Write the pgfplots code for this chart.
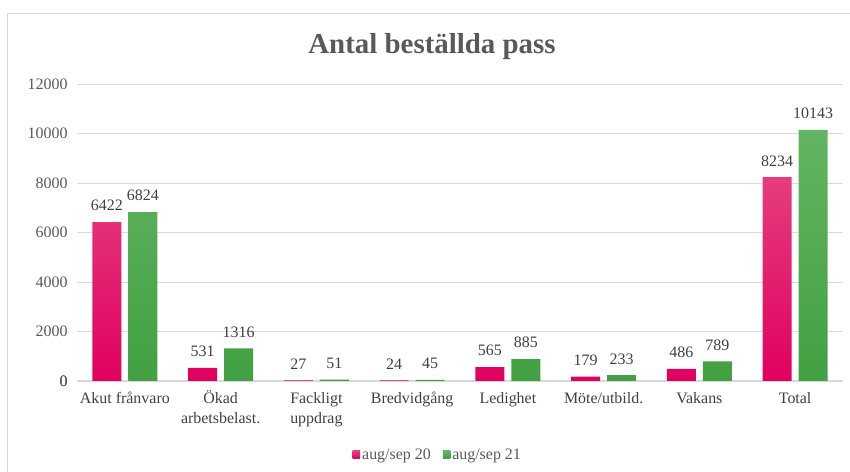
\documentclass[border=0pt]{standalone}
\usepackage{fontspec}
\setmainfont{Liberation Serif}
\usepackage{pgfplots}
\pgfplotsset{compat=1.18}
\definecolor{pinkT}{HTML}{E63C7E}
\definecolor{pinkB}{HTML}{E0005F}
\definecolor{pinkL}{HTML}{E5086A}
\definecolor{greenT}{HTML}{62B562}
\definecolor{greenB}{HTML}{42A042}
\definecolor{greenL}{HTML}{4CAA4C}
\definecolor{gridc}{HTML}{D9D9D9}
\definecolor{txt}{HTML}{404040}
\definecolor{ttl}{HTML}{595959}
\newcommand{\ph}{\vphantom{Ö}}
\begin{document}
\begin{tikzpicture}[x=1bp,y=1bp]
\useasboundingbox (0,0) rectangle (850,472);
\draw[gridc, line width=1.2bp] (7.5,-5) -- (7.5,458.5) -- (860,458.5);
\begin{axis}[
  at={(77bp,91bp)}, anchor=south west,
  scale only axis, width=766bp, height=297bp,
  ymin=0, ymax=12000, xmin=-0.5, xmax=7.5,
  ybar=7bp, bar width=29bp,
  axis line style={draw=none},
  ymajorgrids, grid style={gridc, line width=0.8bp},
  major tick length=0,
  ytick={0,2000,...,12000},
  xtick={0,...,7},
  xticklabels={\ph Akut frånvaro,{\ph Ökad\\arbetsbelast.},{\ph Fackligt\\uppdrag},\ph Bredvidgång,\ph Ledighet,\ph Möte/utbild.,\ph Vakans,\ph Total},
  xticklabel style={align=center, font=\fontsize{16}{20}\selectfont, text=txt, yshift=-6bp},
  yticklabel style={font=\fontsize{16}{19}\selectfont, text=ttl, xshift=-6bp},
  /pgf/number format/assume math mode=true,
  scaled y ticks=false,
  y tick label style={/pgf/number format/set thousands separator={}},
  nodes near coords,
  nodes near coords style={font=\fontsize{16}{19}\selectfont, text=txt, yshift=7.5bp, /pgf/number format/set thousands separator={}},
  legend style={at={(0.471,-0.249)}, anchor=center, legend columns=2, draw=none, font=\fontsize{16}{19}\selectfont, text=ttl, /tikz/every even column/.append style={column sep=10bp}},
  legend cell align=left,
  clip=false,
  extra y ticks={0}, extra y tick style={grid style={gridc, line width=1bp}},
]
\addplot[draw=none, top color=pinkT, bottom color=pinkB,
  legend image code/.code={\fill[pinkL] (0bp,-3.5bp) rectangle (7.5bp,4bp);}]
  coordinates {(0,6422) (1,531) (2,27) (3,24) (4,565) (5,179) (6,486) (7,8234)};
\addplot[draw=none, top color=greenT, bottom color=greenB,
  legend image code/.code={\fill[greenL] (0bp,-3.5bp) rectangle (7.5bp,4bp);}]
  coordinates {(0,6824) (1,1316) (2,51) (3,45) (4,885) (5,233) (6,789) (7,10143)};
\legend{aug/sep 20, aug/sep 21}
\end{axis}
\node[font=\fontsize{29}{34}\selectfont\bfseries, text=ttl] at (432,425) {Antal beställda pass};
\end{tikzpicture}
\end{document}
